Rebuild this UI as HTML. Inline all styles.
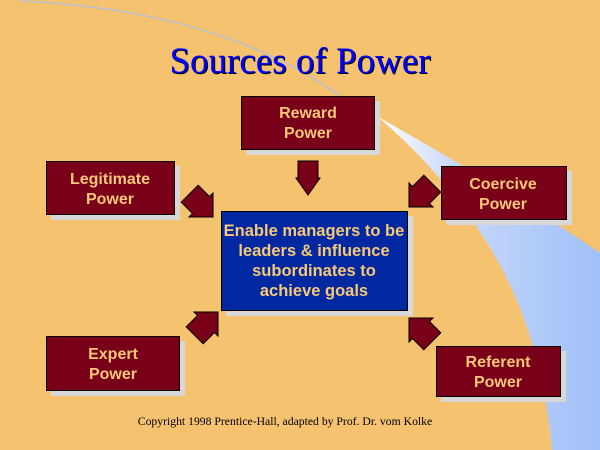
<!DOCTYPE html>
<html><head><style>
html,body{margin:0;padding:0;background:#f5c270;}
svg{display:block}
</style></head><body>
<svg width="600" height="450" viewBox="0 0 600 450" xmlns="http://www.w3.org/2000/svg">
<defs>
<linearGradient id="sw" x1="0" y1="0" x2="1" y2="0">
<stop offset="0" stop-color="#ffffff"/>
<stop offset="0.35" stop-color="#c8d8fa"/>
<stop offset="1" stop-color="#a0c0f8"/>
</linearGradient>
</defs>
<rect width="600" height="450" fill="#f5c270"/>
<path d="M20,1 Q220,10 340,96" fill="none" stroke="#a0c0f8" stroke-width="1"/>
<path d="M378,117 Q500,185 600,253 L600,450 L552,450 Q540,320 480,232 Q440,170 378,117 Z" fill="url(#sw)"/>
<text x="301" y="74" text-anchor="middle" font-family="Liberation Serif, serif" font-size="37" fill="#000">Sources of Power</text>
<text x="300" y="73" text-anchor="middle" font-family="Liberation Serif, serif" font-size="37" fill="#0000ff">Sources of Power</text>
<g font-family="Liberation Sans, sans-serif" font-weight="bold" font-size="16" fill="#f8c878" text-anchor="middle">
<g fill="#d8d8d8">
<rect x="246" y="101" width="134" height="54"/>
<rect x="51" y="166" width="129" height="54"/>
<rect x="446" y="171" width="126" height="54"/>
<rect x="226" y="216" width="187" height="100"/>
<rect x="51" y="341" width="134" height="55"/>
<rect x="441" y="351" width="125" height="51"/>
</g>
<g fill="#780018" stroke="#000" stroke-width="1">
<rect x="241.5" y="96.5" width="133" height="53"/>
<rect x="46.5" y="161.5" width="128" height="53"/>
<rect x="441.5" y="166.5" width="125" height="53"/>
<rect x="46.5" y="336.5" width="133" height="54"/>
<rect x="436.5" y="346.5" width="124" height="50"/>
</g>
<rect x="221.5" y="211.5" width="186" height="99" fill="#0028a0" stroke="#000"/>
<text x="308" y="118">Reward</text><text x="308" y="138">Power</text>
<text x="110" y="184">Legitimate</text><text x="110" y="204">Power</text>
<text x="503" y="189">Coercive</text><text x="503" y="209">Power</text>
<text x="113" y="359">Expert</text><text x="113" y="379">Power</text>
<text x="498" y="367">Referent</text><text x="498" y="387">Power</text>
<g font-size="16.5">
<text x="314" y="236">Enable managers to be</text>
<text x="314" y="256">leaders &amp; influence</text>
<text x="314" y="276">subordinates to</text>
<text x="314" y="296">achieve goals</text>
</g>
</g>
<g fill="#780018" stroke="#000" stroke-width="1">
<path transform="translate(308,178)" d="M-10,-17 L10,-17 L10,0 L12,0 L0,17 L-12,0 L-10,0 Z"/>
<path transform="translate(201,205) rotate(-45)" d="M-12,-16 L12,-16 L12,0 L17,0 L0,17 L-17,0 L-12,0 Z"/>
<path transform="translate(421,195) rotate(45)" d="M-12,-16 L12,-16 L12,0 L17,0 L0,17 L-17,0 L-12,0 Z"/>
<path transform="translate(206,324) rotate(-135)" d="M-12,-16 L12,-16 L12,0 L17,0 L0,17 L-17,0 L-12,0 Z"/>
<path transform="translate(421,330) rotate(135)" d="M-12,-16 L12,-16 L12,0 L17,0 L0,17 L-17,0 L-12,0 Z"/>
</g>
<text x="285" y="425" text-anchor="middle" font-family="Liberation Serif, serif" font-size="11.7" fill="#000">Copyright 1998 Prentice-Hall, adapted by Prof. Dr. vom Kolke</text>
</svg>
</body></html>
